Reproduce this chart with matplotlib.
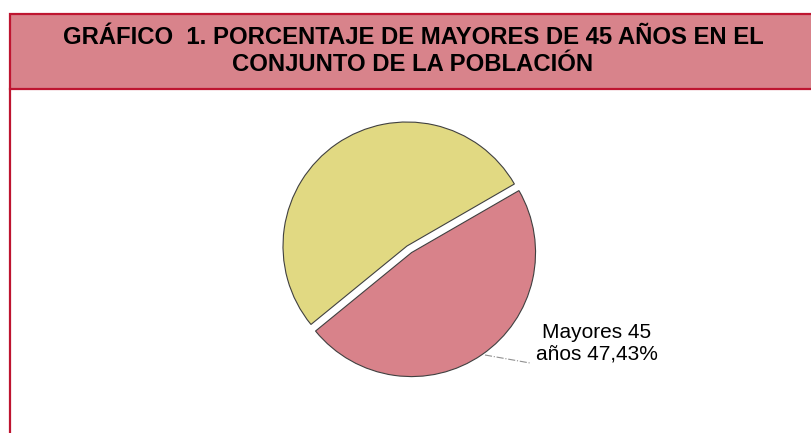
import matplotlib.pyplot as plt
from matplotlib.patches import Rectangle
from matplotlib.lines import Line2D

plt.rcParams['font.family'] = ['Liberation Sans', 'DejaVu Sans']

# data
labels = ['Mayores 45 años', 'Menores de 45 años']
values = [47.43, 52.57]
colors = ['#D8828A', '#E1D982']
label_text = 'Mayores 45\naños 47,43%'
title = 'GRÁFICO  1. PORCENTAJE DE MAYORES DE 45 AÑOS EN EL\nCONJUNTO DE LA POBLACIÓN'

W, H = 811, 433
border = '#BE1530'
fig = plt.figure(figsize=(W / 100, H / 100), dpi=100)

# header box and left frame line
fig.patches.append(Rectangle((10 / W, 1 - 89 / H), 1.0, 75 / H, transform=fig.transFigure,
                             facecolor='#D8838B', edgecolor=border, linewidth=1.6, zorder=0))
fig.lines.append(Line2D([10 / W, 10 / W], [0, 1 - 89 / H], transform=fig.transFigure,
                        color=border, linewidth=1.6))
fig.text(413 / W, 1 - 51 / H, title, ha='center', va='center', fontsize=17.2,
         fontweight='bold', linespacing=1.2)

ax = fig.add_axes([0, 0, 1, 1])

# explode is in data units here (pixels)
ax.pie(values, colors=colors, startangle=30, counterclock=False,
       explode=[8, 0], center=(407, H - 246), radius=124,
       wedgeprops=dict(edgecolor='#404040', linewidth=0.8), frame=True)
ax.set_xlim(0, W)
ax.set_ylim(0, H)
ax.set_aspect('equal')
ax.axis('off')

ax.plot([485, 530], [H - 355, H - 363], color='#909090', linewidth=0.8, linestyle='-.')
ax.text(597, H - 343, label_text, ha='center', va='center', fontsize=15, linespacing=1.15)

fig.savefig('out.png', dpi=100)
